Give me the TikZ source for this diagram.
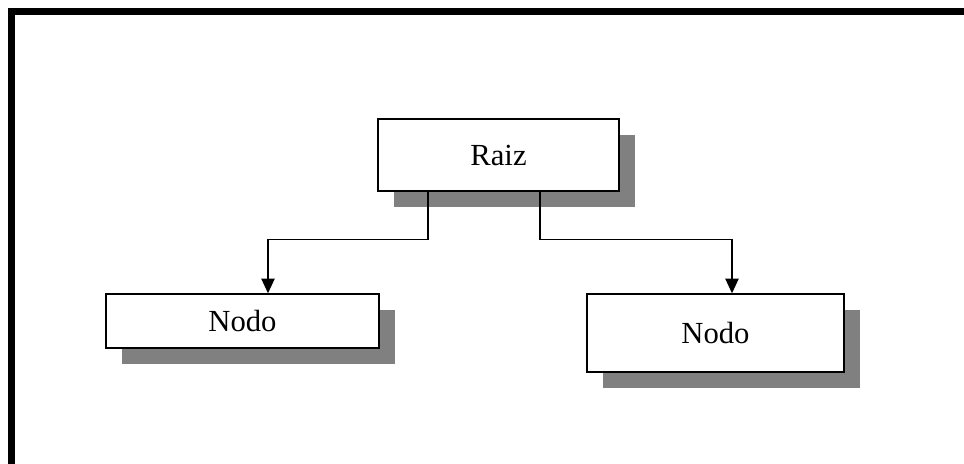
\documentclass[tikz,border=0pt]{standalone}
\usepackage{fontspec}
\setmainfont{Liberation Serif}
\usetikzlibrary{shadows,calc,arrows.meta}
\definecolor{shadowgray}{RGB}{128,128,128}
\tikzset{
  treebox/.style={draw=black, fill=white, line width=1.1pt, inner sep=0pt,
    font=\fontsize{23}{26}\selectfont,
    drop shadow={shadow xshift=12pt, shadow yshift=-12pt, fill=shadowgray, opacity=1}},
  arr/.style={line width=1pt, -{Triangle[length=11pt,width=10pt]}},
  frameline/.style={line width=5.25pt}
}
\begin{document}
\begin{tikzpicture}[x=0.75pt,y=-0.75pt]
\useasboundingbox (0,0) rectangle (964,464);
\clip (0,0) rectangle (964,464);
\draw[frameline] (11.5,480) -- (11.5,11.5) -- (980,11.5);
\node[treebox, minimum width=180.75pt, minimum height=54pt] (raiz) at (498.5,155) {Raiz};
\node[treebox, minimum width=204.75pt, minimum height=40.5pt] (n1) at (242.5,321) {Nodo};
\node[treebox, minimum width=192.75pt, minimum height=58.5pt] (n2) at (715.5,333) {Nodo};
\coordinate (j1) at ($(raiz.south)+(-70.5,0)$);
\coordinate (j2) at ($(raiz.south)+(41.5,0)$);
\coordinate (t1) at ($(n1.north)+(25.5,0)$);
\coordinate (t2) at ($(n2.north)+(16.5,0)$);
\draw[arr] (j1) -- ++(0,48) -| (t1);
\draw[arr] (j2) -- ++(0,48) -| (t2);
\end{tikzpicture}
\end{document}
